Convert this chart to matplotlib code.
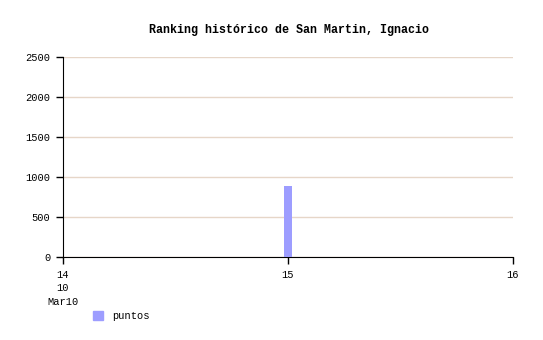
import matplotlib
matplotlib.use('Agg')
import matplotlib.pyplot as plt
from matplotlib.patches import Patch

# data
dias = [15]
puntos = [885]
x_ticks = [14, 15, 16]
x_labels = ['14\n10\nMar10', '15', '16']
y_ticks = [0, 500, 1000, 1500, 2000, 2500]

plt.rcParams['font.family'] = ['Liberation Mono', 'DejaVu Sans Mono']

fig = plt.figure(figsize=(5.43, 3.40), dpi=100)
ax = fig.add_axes([63 / 543, 1 - 257 / 340, 450 / 543, 200 / 340])

bar_color = '#9d9dff'
ax.bar(dias, puntos, width=0.04, color=bar_color, zorder=3)

ax.set_xlim(14, 16)
ax.set_ylim(0, 2500)
ax.set_xticks(x_ticks)
ax.set_xticklabels(x_labels, fontsize=7.5, linespacing=1.45)
ax.set_yticks(y_ticks)
ax.set_yticklabels([str(v) for v in y_ticks], fontsize=7.5)

ax.grid(axis='y', color='#e6d6c8', linewidth=1, zorder=0)
ax.spines['top'].set_visible(False)
ax.spines['right'].set_visible(False)
ax.tick_params(direction='out', length=5, width=1, color='black', pad=4)

fig.text(0.532, 1 - 30 / 340, 'Ranking histórico de San Martin, Ignacio',
         ha='center', va='center', fontsize=8.4, fontweight='bold')

fig.legend(handles=[Patch(color=bar_color, label='puntos')],
           loc='center left', bbox_to_anchor=(88 / 543, 1 - 316 / 340),
           frameon=False, fontsize=7.5, handlelength=0.95, handleheight=1.05,
           handletextpad=0.9, borderpad=0)

fig.savefig('out.png', dpi=100)
